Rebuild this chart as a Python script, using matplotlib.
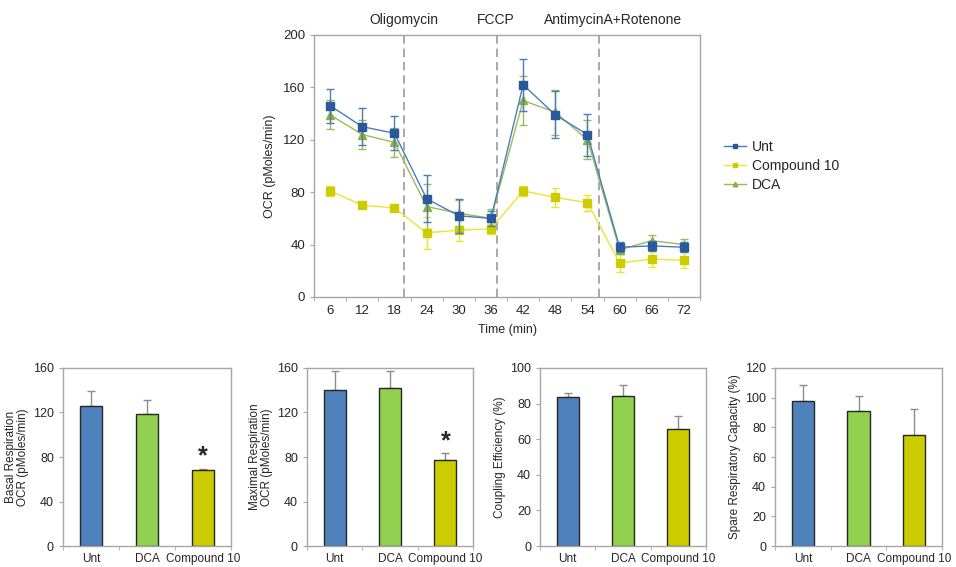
import numpy as np
import matplotlib.pyplot as plt

plt.rcParams['font.family'] = ['Liberation Sans', 'DejaVu Sans']
plt.rcParams['text.color'] = '#262626'
plt.rcParams['axes.labelcolor'] = '#262626'
plt.rcParams['xtick.color'] = '#262626'
plt.rcParams['ytick.color'] = '#262626'

# Zeitverlauf OCR
time = [6, 12, 18, 24, 30, 36, 42, 48, 54, 60, 66, 72]
unt = [146, 130, 125, 75, 62, 60, 162, 139, 124, 38, 39, 38]
unt_err = [13, 14, 13, 18, 13, 6, 20, 18, 16, 4, 4, 4]
cmp10 = [81, 70, 68, 49, 51, 52, 81, 76, 72, 26, 29, 28]
cmp10_err = [4, 2, 2, 12, 8, 4, 4, 7, 6, 7, 6, 6]
dca = [139, 124, 118, 69, 64, 60, 150, 141, 120, 36, 43, 40]
dca_err = [11, 11, 11, 17, 10, 7, 19, 17, 15, 3, 4, 4]

injections = ['Oligomycin', 'FCCP', 'AntimycinA+Rotenone']
inj_pos = [2.3, 5.2, 8.35]
inj_label_pos = [2.3, 5.15, 8.8]

# Balkendiagramme
groups = ['Unt', 'DCA', 'Compound 10']
basal = [126, 119, 68]
basal_err = [13.5, 12, 1.5]
maximal = [140, 142, 77]
maximal_err = [17, 15.5, 6.5]
coupling = [83.7, 84.3, 66]
coupling_err = [2.3, 6, 6.8]
spare = [97.5, 91, 75]
spare_err = [10.7, 10, 17.3]

frame = '#a6a6a6'
c_unt, c_unt_m = '#4a7ebb', '#2a5a9a'
c_cmp, c_cmp_m = '#e6e633', '#cccc00'
c_dca, c_dca_m = '#9bbb59', '#8cb040'
bar_colors = ['#4f81bd', '#92d050', '#cccc00']

fig = plt.figure(figsize=(9.56, 5.67), dpi=100)


def style_frame(ax, size=9):
    for sp in ax.spines.values():
        sp.set_color(frame)
        sp.set_linewidth(1.0)
    ax.tick_params(axis='both', colors=frame, labelcolor='#262626',
                   labelsize=size, length=3, direction='out')


# Obere Grafik
ax = fig.add_axes([0.3285, 0.4762, 0.4038, 0.4621])
x = np.arange(len(time))
e1 = ax.errorbar(x, unt, yerr=unt_err, color=c_unt, ecolor=c_unt, lw=1.0, elinewidth=1.0,
                 capsize=3, marker='s', ms=5.5, mfc=c_unt_m, mec=c_unt_m, zorder=4)
e2 = ax.errorbar(x, cmp10, yerr=cmp10_err, color=c_cmp, ecolor=c_cmp, lw=1.0, elinewidth=1.0,
                 capsize=3, marker='s', ms=5.5, mfc=c_cmp_m, mec=c_cmp_m, zorder=3)
e3 = ax.errorbar(x, dca, yerr=dca_err, color=c_dca, ecolor=c_dca, lw=1.0, elinewidth=1.0,
                 capsize=3, marker='^', ms=5.5, mfc=c_dca_m, mec=c_dca_m, zorder=3)
for p in inj_pos:
    ax.axvline(p, color='#999999', ls=(0, (5, 3)), lw=1.2, zorder=1)
for name, p in zip(injections, inj_label_pos):
    ax.text(p, 1.03, name, transform=ax.get_xaxis_transform(), ha='center', va='bottom',
            fontsize=10)
ax.set_xlim(-0.5, len(time) - 0.5)
ax.set_ylim(0, 200)
ax.set_yticks(np.arange(0, 201, 40))
ax.set_xticks(x)
ax.set_xticklabels([str(t) for t in time])
ax.set_xticks(np.arange(-0.5, len(time), 1), minor=True)
style_frame(ax, 9.5)
ax.tick_params(axis='x', which='major', length=0, pad=6)
ax.tick_params(axis='x', which='minor', length=3, colors=frame)
ax.set_xlabel('Time (min)', fontsize=9, labelpad=5)
ax.set_ylabel('OCR (pMoles/min)', fontsize=9, labelpad=5)
ax.legend([e1[0], e2[0], e3[0]], ['Unt', 'Compound 10', 'DCA'],
          loc='center left', bbox_to_anchor=(1.03, 0.5), frameon=False, fontsize=10,
          handlelength=1.6, handletextpad=0.4, labelspacing=0.35, markerscale=0.6)

# Untere Grafiken
panels = [
    ([0.0659, 0.037, 0.1757, 0.314], basal, basal_err, 160, 40,
     'Basal Respiration\nOCR (pMoles/min)', True),
    ([0.3211, 0.037, 0.1736, 0.314], maximal, maximal_err, 160, 40,
     'Maximal Respiration\nOCR (pMoles/min)', True),
    ([0.5649, 0.037, 0.1736, 0.314], coupling, coupling_err, 100, 20,
     'Coupling Efficiency (%)', False),
    ([0.8107, 0.037, 0.1747, 0.314], spare, spare_err, 120, 20,
     'Spare Respiratory Capacity (%)', False),
]
for rect, vals, errs, ymax, step, ylab, star in panels:
    bx = fig.add_axes(rect)
    xb = np.arange(len(groups))
    bx.bar(xb, vals, width=0.4, color=bar_colors, edgecolor='#262626', lw=1.0, zorder=2)
    bx.errorbar(xb, vals, yerr=[[0] * len(errs), errs], fmt='none', ecolor='#8c8c8c',
                elinewidth=1.0, capsize=3, zorder=1)
    if star:
        bx.text(2, vals[2] + errs[2], '*', ha='center', va='bottom',
                fontsize=18, fontweight='bold')
    bx.set_xlim(-0.5, 2.5)
    bx.set_ylim(0, ymax)
    bx.set_yticks(np.arange(0, ymax + 1, step))
    bx.set_xticks(xb)
    bx.set_xticklabels(groups)
    bx.set_xticks([-0.5, 0.5, 1.5, 2.5], minor=True)
    style_frame(bx, 9)
    bx.tick_params(axis='x', which='major', length=0, pad=5, labelsize=8.5)
    bx.tick_params(axis='x', which='minor', length=3, colors=frame)
    bx.set_ylabel(ylab, fontsize=8.5, labelpad=3, linespacing=1.0)

plt.savefig('out.png', dpi=100)
